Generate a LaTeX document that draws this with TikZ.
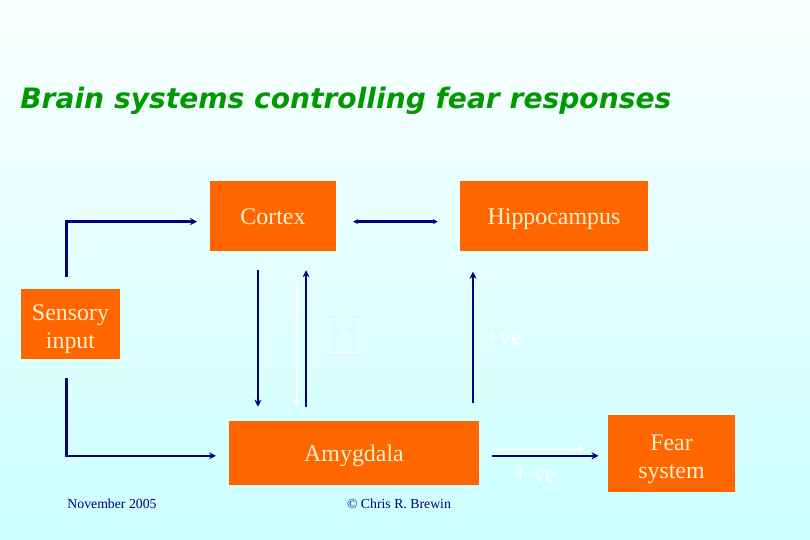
\documentclass[tikz,border=0pt]{standalone}
\usepackage{fontspec}
\setmainfont{Liberation Serif}
\newfontfamily\titlefont{DejaVu Sans}
\usepackage{tikz}
\usetikzlibrary{arrows.meta,positioning,calc}
\definecolor{boxfill}{HTML}{FF6600}
\definecolor{boxtext}{HTML}{FFF2CC}
\definecolor{navy}{HTML}{000080}
\definecolor{titlegreen}{HTML}{009900}
\definecolor{skytop}{HTML}{FBFFFF}
\definecolor{skybot}{HTML}{CCFFFF}
\newcommand{\lift}{\rule{0pt}{18.7pt}}

\begin{document}
\begin{tikzpicture}[x=0.025cm, y=-0.025cm,
  region/.style={fill=boxfill, text=boxtext, align=center, inner sep=0pt,
    font=\fontsize{17}{20}\selectfont},
  oneline/.style={text height=11.7pt, text depth=0pt},
  link/.style={draw=navy, line width=1.8pt, -{Stealth[length=5pt,width=5pt]}},
  ghost/.style={draw=white, line width=1.4pt, -{Stealth[length=5pt,width=5pt]}},
  faint/.style={text=white, font=\fontsize{17}{21}\selectfont},
  footer/.style={text=navy, font=\fontsize{9.8}{12}\selectfont}]
  % background
  \shade[top color=skytop, bottom color=skybot] (0,0) rectangle (810,540);
  \useasboundingbox (0,0) rectangle (810,540);
  % title
  \node[anchor=base west, text=titlegreen, inner sep=0pt,
    font=\titlefont\fontsize{20}{24}\selectfont\bfseries\itshape]
    (title) at (20,108) {Brain systems controlling fear responses};
  % boxes
  \node[region, oneline, minimum width=3.15cm, minimum height=1.75cm] (cortex) at (273,216) {Cortex};
  \node[region, oneline, minimum width=4.7cm, minimum height=1.75cm] (hippo) at (554,216) {Hippocampus};
  \node[region, minimum width=2.48cm, minimum height=1.75cm] (sensory) at (70.5,324) {\lift Sensory\\input};
  \node[region, oneline, minimum width=6.25cm, minimum height=1.6cm] (amygdala) at (354,453) {Amygdala};
  \node[region, minimum width=3.18cm, minimum height=1.93cm] (fear) at (671.5,453.5) {\lift Fear\\system};
  % connectors
  \draw[link, shorten <=8.5pt, shorten >=9pt]
    ([xshift=-2.7pt]sensory.north) |- ([yshift=-4pt]cortex.west);
  \draw[link, shorten <=13.5pt, shorten >=9pt]
    ([xshift=-2.7pt]sensory.south) |- ([yshift=-2pt]amygdala.west);
  \draw[link, {Stealth[length=3.5pt,width=3.5pt]}-{Stealth[length=3.5pt,width=3.5pt]}, shorten <=12pt, shorten >=15.6pt]
    ([yshift=-4pt]cortex.east) -- ([yshift=-4pt]hippo.west);
  \draw[link, shorten <=13.5pt, shorten >=10pt]
    ([xshift=-10.7pt]cortex.south) -- ([xshift=-10.7pt]cortex.south |- amygdala.north);
  \draw[link, shorten <=9.5pt, shorten >=13.5pt]
    ([xshift=23.5pt]cortex.south |- amygdala.north) -- ([xshift=23.5pt]cortex.south);
  \draw[ghost, shorten <=21pt, shorten >=10pt]
    ([xshift=17pt]cortex.south) -- ([xshift=17pt]cortex.south |- amygdala.north);
  \draw[link, shorten <=12.8pt, shorten >=14.5pt]
    ([xshift=-57.6pt]hippo.south |- amygdala.north) -- ([xshift=-57.6pt]hippo.south);
  \draw[link, shorten <=9pt, shorten >=6.4pt]
    ([yshift=-2pt]amygdala.east) -- ([yshift=-2pt]amygdala.east -| fear.west);
  \draw[ghost, shorten <=9pt, shorten >=16pt]
    ([yshift=3pt]amygdala.east) -- ([yshift=3pt]amygdala.east -| fear.west);
  % faint labels
  \node[faint, draw=white, inner sep=3pt, minimum width=0.72cm, minimum height=0.82cm] (plus) at (344,336) {+};
  \node[faint] (pve) at (504,338) {+ve};
  \node[faint] (pvetwo) at (535,476) {+ ve};
  % footer
  \node[footer, anchor=base] (date) at (112,508) {November 2005};
  \node[footer, anchor=base] (credit) at (399,508) {\textcopyright{} Chris R. Brewin};
\end{tikzpicture}
\end{document}
